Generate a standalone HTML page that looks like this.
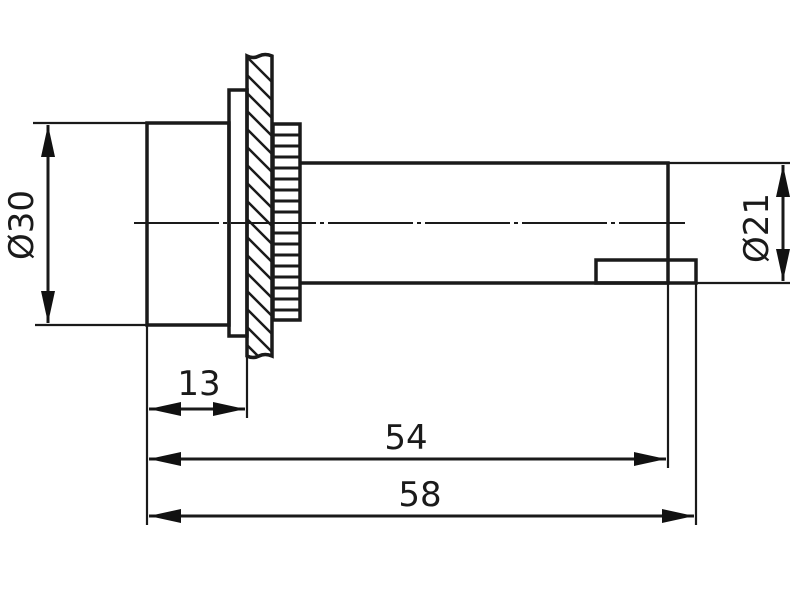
<!DOCTYPE html>
<html><head><style>html,body{margin:0;padding:0;background:#fff}svg{display:block}</style></head>
<body>
<svg width="800" height="600" viewBox="0 0 800 600" xmlns="http://www.w3.org/2000/svg">
<defs>
<clipPath id="pc"><rect x="248" y="58" width="24" height="298"/></clipPath>
<marker id="a" markerWidth="32" markerHeight="14" refX="32" refY="7" orient="auto" markerUnits="userSpaceOnUse"><path d="M0,0 L32,7 L0,14 Z" fill="#111"/></marker>
<marker id="b" markerWidth="32" markerHeight="14" refX="0" refY="7" orient="auto" markerUnits="userSpaceOnUse"><path d="M32,0 L0,7 L32,14 Z" fill="#111"/></marker>
</defs>
<g stroke="#1a1a1a" fill="none">
<!-- body -->
<rect x="147" y="123" width="82" height="202" stroke-width="3.5"/>
<rect x="229" y="90" width="18" height="246" stroke-width="3.5"/>
<!-- panel hatched -->
<g clip-path="url(#pc)" stroke-width="2.5">
<line x1="230" y1="40" x2="290" y2="100"/><line x1="230" y1="58" x2="290" y2="118"/>
<line x1="230" y1="76" x2="290" y2="136"/><line x1="230" y1="94" x2="290" y2="154"/>
<line x1="230" y1="112" x2="290" y2="172"/><line x1="230" y1="130" x2="290" y2="190"/>
<line x1="230" y1="148" x2="290" y2="208"/><line x1="230" y1="166" x2="290" y2="226"/>
<line x1="230" y1="184" x2="290" y2="244"/><line x1="230" y1="202" x2="290" y2="262"/>
<line x1="230" y1="220" x2="290" y2="280"/><line x1="230" y1="238" x2="290" y2="298"/>
<line x1="230" y1="256" x2="290" y2="316"/><line x1="230" y1="274" x2="290" y2="334"/>
<line x1="230" y1="292" x2="290" y2="352"/><line x1="230" y1="310" x2="290" y2="370"/>
<line x1="230" y1="328" x2="290" y2="388"/>
</g>
<path d="M247,56 Q253,59 259,56 Q265,53 272,56 L272,356 Q265,353 259,356 Q253,359 247,356 Z" stroke-width="3.5"/>
<!-- knurled nut -->
<rect x="273" y="124" width="27" height="196" stroke-width="3.5"/>
<g stroke-width="3">
<line x1="273" y1="135" x2="300" y2="135"/><line x1="273" y1="146" x2="300" y2="146"/>
<line x1="273" y1="157" x2="300" y2="157"/><line x1="273" y1="168" x2="300" y2="168"/>
<line x1="273" y1="179" x2="300" y2="179"/><line x1="273" y1="190" x2="300" y2="190"/>
<line x1="273" y1="201" x2="300" y2="201"/><line x1="273" y1="212" x2="300" y2="212"/>
<line x1="273" y1="233" x2="300" y2="233"/>
<line x1="273" y1="244" x2="300" y2="244"/><line x1="273" y1="255" x2="300" y2="255"/>
<line x1="273" y1="266" x2="300" y2="266"/><line x1="273" y1="277" x2="300" y2="277"/>
<line x1="273" y1="288" x2="300" y2="288"/><line x1="273" y1="299" x2="300" y2="299"/>
<line x1="273" y1="310" x2="300" y2="310"/>
</g>
<!-- shaft -->
<path d="M300,163 L668,163 L668,283 L300,283" stroke-width="3.5"/>
<rect x="596" y="260" width="100" height="23" stroke-width="3.5"/>
<!-- center line -->
<line x1="130" y1="223" x2="685" y2="223" stroke-width="2" stroke-dasharray="85 4 4 4" stroke-dashoffset="-4"/>
<!-- extension lines -->
<g stroke-width="2.2">
<line x1="33" y1="123" x2="147" y2="123"/><line x1="35" y1="325" x2="147" y2="325"/>
<line x1="668" y1="163" x2="790" y2="163"/><line x1="696" y1="283" x2="790" y2="283"/>
<line x1="147" y1="325" x2="147" y2="525"/>
<line x1="247" y1="356" x2="247" y2="418"/>
<line x1="668" y1="283" x2="668" y2="468"/>
<line x1="696" y1="283" x2="696" y2="525"/>
</g>
<g stroke-width="3">
<line x1="48" y1="125" x2="48" y2="323" marker-start="url(#b)" marker-end="url(#a)"/>
<line x1="783" y1="165" x2="783" y2="281" marker-start="url(#b)" marker-end="url(#a)"/>
<line x1="149" y1="409" x2="245" y2="409" marker-start="url(#b)" marker-end="url(#a)"/>
<line x1="149" y1="459" x2="666" y2="459" marker-start="url(#b)" marker-end="url(#a)"/>
<line x1="149" y1="516" x2="694" y2="516" marker-start="url(#b)" marker-end="url(#a)"/>
</g>
</g>
<g font-family="'DejaVu Sans','Liberation Sans',sans-serif" font-size="34" fill="#1a1a1a" text-anchor="middle">
<text x="199" y="395">13</text>
<text x="406" y="449">54</text>
<text x="420" y="506">58</text>
<text transform="translate(33,225) rotate(-90)">Ø30</text>
<text transform="translate(768,228) rotate(-90)">Ø21</text>
</g>
</svg>
</body></html>
